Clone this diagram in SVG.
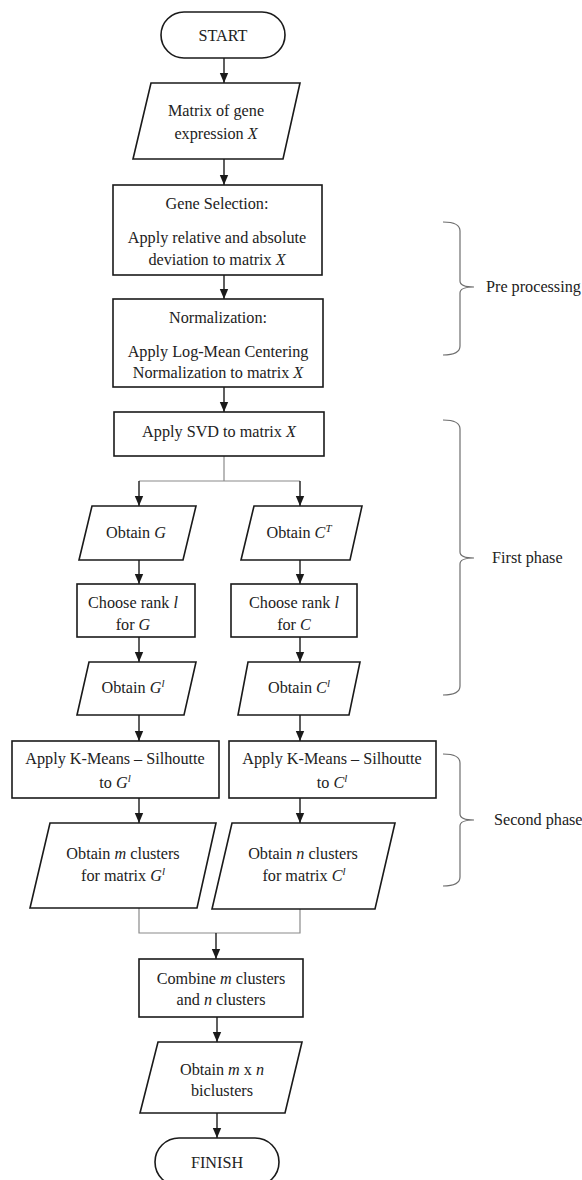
<svg xmlns="http://www.w3.org/2000/svg" width="582" height="1180" viewBox="0 0 582 1180">
  <style>
    .shape { fill: #ffffff; stroke: #1a1a1a; stroke-width: 1.6; }
    .label { font-family: "Liberation Serif", "Times New Roman", serif; font-size: 16.2px; fill: #222222; text-anchor: middle; }
    .side { font-family: "Liberation Serif", "Times New Roman", serif; font-size: 16.2px; fill: #222222; }
    .math { font-style: italic; }
    .sup { font-size: 11px; font-style: italic; }
    .flow { fill: none; stroke: #1a1a1a; stroke-width: 1.4; }
    .thin { fill: none; stroke: #8a8a8a; stroke-width: 1.2; }
    .brace { fill: none; stroke: #6e6e6e; stroke-width: 1.2; }
  </style>
  <defs>
    <marker id="arrow" markerUnits="userSpaceOnUse" markerWidth="10" markerHeight="10" viewBox="0 0 10 10" refX="10" refY="5" orient="auto">
      <path d="M0,0.8 L10,5 L0,9.2 Z" fill="#1a1a1a"/>
    </marker>
  </defs>

  <rect width="582" height="1180" fill="#ffffff"/>

  <!-- connectors -->
  <g id="connectors">
    <line class="flow" x1="224" y1="58" x2="224" y2="83" marker-end="url(#arrow)"/>
    <line class="flow" x1="224" y1="159" x2="224" y2="185" marker-end="url(#arrow)"/>
    <line class="flow" x1="224" y1="275" x2="224" y2="299" marker-end="url(#arrow)"/>
    <line class="flow" x1="224" y1="387" x2="224" y2="412" marker-end="url(#arrow)"/>
    <!-- split after SVD -->
    <polyline class="thin" points="224,456 224,481"/>
    <polyline class="thin" points="139,481 300,481"/>
    <line class="flow" x1="139" y1="481" x2="139" y2="506" marker-end="url(#arrow)"/>
    <line class="flow" x1="300" y1="481" x2="300" y2="506" marker-end="url(#arrow)"/>
    <!-- left column -->
    <line class="flow" x1="139" y1="560" x2="139" y2="584" marker-end="url(#arrow)"/>
    <line class="flow" x1="139" y1="637" x2="139" y2="662" marker-end="url(#arrow)"/>
    <line class="flow" x1="139" y1="715" x2="139" y2="741" marker-end="url(#arrow)"/>
    <line class="flow" x1="139" y1="798" x2="139" y2="823" marker-end="url(#arrow)"/>
    <!-- right column -->
    <line class="flow" x1="300" y1="560" x2="300" y2="584" marker-end="url(#arrow)"/>
    <line class="flow" x1="300" y1="637" x2="300" y2="662" marker-end="url(#arrow)"/>
    <line class="flow" x1="300" y1="715" x2="300" y2="741" marker-end="url(#arrow)"/>
    <line class="flow" x1="300" y1="798" x2="300" y2="823" marker-end="url(#arrow)"/>
    <!-- merge -->
    <polyline class="thin" points="139,908 139,933 300,933 300,909"/>
    <line class="flow" x1="216" y1="933" x2="216" y2="959" marker-end="url(#arrow)"/>
    <line class="flow" x1="217" y1="1017" x2="217" y2="1042" marker-end="url(#arrow)"/>
    <line class="flow" x1="217" y1="1113" x2="217" y2="1138" marker-end="url(#arrow)"/>
  </g>

  <!-- phase braces -->
  <g id="brace-pre">
    <path class="brace" d="M443,222 Q460,222 460,231 L460,281 Q460,287 474,287 Q460,287 460,293 L460,346 Q460,355 443,355"/>
    <text class="side" x="486" y="292">Pre processing</text>
  </g>
  <g id="brace-first">
    <path class="brace" d="M443,420 Q460,420 460,429 L460,552 Q460,558 474,558 Q460,558 460,564 L460,686 Q460,695 443,695"/>
    <text class="side" x="492" y="563">First phase</text>
  </g>
  <g id="brace-second">
    <path class="brace" d="M443,754 Q460,754 460,763 L460,814 Q460,820 474,820 Q460,820 460,826 L460,877 Q460,886 443,886"/>
    <text class="side" x="494" y="825">Second phase</text>
  </g>

  <!-- nodes -->
  <g id="start">
    <rect class="shape" x="161" y="12" width="124" height="46" rx="23" ry="23"/>
    <text class="label" x="223" y="41">START</text>
  </g>

  <g id="input-matrix">
    <polygon class="shape" points="151,83 300,83 283,159 133,159"/>
    <text class="label" x="216" y="116">Matrix of gene</text>
    <text class="label" x="216" y="139">expression <tspan class="math">X</tspan></text>
  </g>

  <g id="gene-selection">
    <rect class="shape" x="113" y="185" width="209" height="90"/>
    <text class="label" x="217" y="209">Gene Selection:</text>
    <text class="label" x="217" y="243">Apply relative and absolute</text>
    <text class="label" x="217" y="265">deviation to matrix <tspan class="math">X</tspan></text>
  </g>

  <g id="normalization">
    <rect class="shape" x="113" y="299" width="210" height="88"/>
    <text class="label" x="218" y="323">Normalization:</text>
    <text class="label" x="218" y="357">Apply Log-Mean Centering</text>
    <text class="label" x="218" y="378">Normalization to matrix <tspan class="math">X</tspan></text>
  </g>

  <g id="svd">
    <rect class="shape" x="114" y="412" width="210" height="44"/>
    <text class="label" x="219" y="437">Apply SVD to matrix <tspan class="math">X</tspan></text>
  </g>

  <g id="obtain-g">
    <polygon class="shape" points="92,506 196,506 183,560 79,560"/>
    <text class="label" x="136" y="538">Obtain <tspan class="math">G</tspan></text>
  </g>

  <g id="obtain-ct">
    <polygon class="shape" points="254,506 362,506 350,560 241,560"/>
    <text class="label" x="299" y="538">Obtain <tspan class="math">C</tspan><tspan class="sup" dy="-6">T</tspan></text>
  </g>

  <g id="rank-g">
    <rect class="shape" x="77" y="584" width="118" height="53"/>
    <text class="label" x="133" y="608">Choose rank <tspan class="math">l</tspan></text>
    <text class="label" x="133" y="630">for <tspan class="math">G</tspan></text>
  </g>

  <g id="rank-c">
    <rect class="shape" x="231" y="584" width="126" height="53"/>
    <text class="label" x="294" y="608">Choose rank <tspan class="math">l</tspan></text>
    <text class="label" x="294" y="630">for <tspan class="math">C</tspan></text>
  </g>

  <g id="obtain-gl">
    <polygon class="shape" points="89,662 196,662 184,715 77,715"/>
    <text class="label" x="133" y="693">Obtain <tspan class="math">G</tspan><tspan class="sup" dy="-6">l</tspan></text>
  </g>

  <g id="obtain-cl">
    <polygon class="shape" points="248,662 360,662 349,715 238,715"/>
    <text class="label" x="299" y="693">Obtain <tspan class="math">C</tspan><tspan class="sup" dy="-6">l</tspan></text>
  </g>

  <g id="kmeans-g">
    <rect class="shape" x="12" y="741" width="207" height="57"/>
    <text class="label" x="115" y="764">Apply K-Means – Silhoutte</text>
    <text class="label" x="115" y="788">to <tspan class="math">G</tspan><tspan class="sup" dy="-6">l</tspan></text>
  </g>

  <g id="kmeans-c">
    <rect class="shape" x="229" y="741" width="207" height="57"/>
    <text class="label" x="332" y="764">Apply K-Means – Silhoutte</text>
    <text class="label" x="332" y="788">to <tspan class="math">C</tspan><tspan class="sup" dy="-6">l</tspan></text>
  </g>

  <g id="clusters-g">
    <polygon class="shape" points="50,823 216,823 197,908 30,908"/>
    <text class="label" x="123" y="859">Obtain <tspan class="math">m</tspan> clusters</text>
    <text class="label" x="123" y="881">for matrix <tspan class="math">G</tspan><tspan class="sup" dy="-6">l</tspan></text>
  </g>

  <g id="clusters-c">
    <polygon class="shape" points="232,823 395,823 375,909 212,909"/>
    <text class="label" x="303" y="859">Obtain <tspan class="math">n</tspan> clusters</text>
    <text class="label" x="304" y="881">for matrix <tspan class="math">C</tspan><tspan class="sup" dy="-6">l</tspan></text>
  </g>

  <g id="combine">
    <rect class="shape" x="139" y="959" width="164" height="58"/>
    <text class="label" x="221" y="984">Combine <tspan class="math">m</tspan> clusters</text>
    <text class="label" x="221" y="1005">and <tspan class="math">n</tspan> clusters</text>
  </g>

  <g id="biclusters">
    <polygon class="shape" points="158,1042 302,1042 285,1113 140,1113"/>
    <text class="label" x="222" y="1075">Obtain <tspan class="math">m</tspan> x <tspan class="math">n</tspan></text>
    <text class="label" x="222" y="1096">biclusters</text>
  </g>

  <g id="finish">
    <rect class="shape" x="155" y="1138" width="124" height="48" rx="24" ry="24"/>
    <text class="label" x="217" y="1168">FINISH</text>
  </g>
</svg>
